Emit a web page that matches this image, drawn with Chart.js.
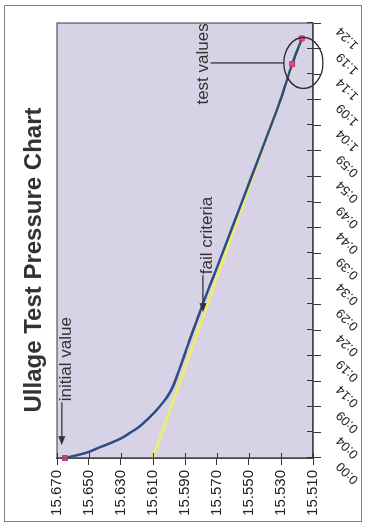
<!DOCTYPE html>
<html>
<head>
<meta charset="utf-8">
<script src="https://cdn.jsdelivr.net/npm/chart.js@4.4.1/dist/chart.umd.min.js"></script>
<style>
  html, body { margin: 0; padding: 0; background: #fff; }
  /* the chart is drawn landscape, then turned a quarter left like the photo */
  #wrap { position: absolute; left: 0; top: 0; width: 525px; height: 365px;
          transform-origin: 0 0; transform: translate(0, 525px) rotate(-90deg); }
</style>
</head>
<body>
<div id="wrap"><canvas id="chart" width="525" height="365"></canvas></div>
<script>
// time axis, minutes from start, and the printed labels
var tickMinutes = [0, 5, 10, 15, 20, 25, 30, 35, 40, 45, 50, 55, 60, 65, 70, 75, 80, 85];
var timeLabels = ['0:00', '0:04', '0:09', '0:14', '0:19', '0:24', '0:29', '0:34', '0:39',
                  '0:44', '0:49', '0:54', '0:59', '1:04', '1:09', '1:14', '1:19', '1:24'];
var pressureTicks = [15.51, 15.53, 15.55, 15.57, 15.59, 15.61, 15.63, 15.65, 15.67];

// measured pressure curve
var pressureMinutes = [0, 1, 2, 3, 4, 5, 6, 8, 10, 12, 14, 16.5, 20, 23, 26, 30, 35, 40, 50, 60, 70, 77, 82];
var pressureValues = [15.665, 15.652, 15.644, 15.636, 15.629, 15.624, 15.619, 15.612, 15.606, 15.601,
                      15.5975, 15.5945, 15.5905, 15.5872, 15.5837, 15.579, 15.5728, 15.5666, 15.5545, 15.5423,
                      15.5303, 15.523, 15.517];

// fail criteria line
var failMinutes = [0, 82];
var failValues = [15.610, 15.517];

// initial value + test values
var markMinutes = [0, 77, 82];
var markValues = [15.665, 15.523, 15.517];

function pairs(xs, ys) {
  return xs.map(function(x, i) { return {x: x, y: ys[i]}; });
}

var FONT = '"Liberation Sans", Arial, Helvetica, sans-serif';

function arrowLeft(ctx, tipX, tipY, len) {
  ctx.beginPath();
  ctx.moveTo(tipX + len, tipY);
  ctx.lineTo(tipX + 6, tipY);
  ctx.stroke();
  ctx.beginPath();
  ctx.moveTo(tipX, tipY);
  ctx.lineTo(tipX + 9, tipY - 3.5);
  ctx.lineTo(tipX + 9, tipY + 3.5);
  ctx.closePath();
  ctx.fill();
}

var decor = {
  id: 'decor',
  beforeDraw: function(chart) {
    var ctx = chart.ctx, a = chart.chartArea;
    ctx.save();
    ctx.fillStyle = '#fff';
    ctx.fillRect(0, 0, chart.width, chart.height);
    ctx.strokeStyle = '#808080';
    ctx.lineWidth = 1;
    ctx.strokeRect(3.5, 4.5, chart.width - 9, chart.height - 8);
    ctx.fillStyle = '#d8d2e6';
    ctx.fillRect(a.left, a.top, a.right - a.left, a.bottom - a.top);
    ctx.restore();
  },
  afterDraw: function(chart) {
    var ctx = chart.ctx, a = chart.chartArea;
    var xs = chart.scales.x, ys = chart.scales.y;
    ctx.save();

    // plot area frame
    ctx.strokeStyle = '#555';
    ctx.lineWidth = 1.2;
    ctx.strokeRect(a.left, a.top, a.right - a.left, a.bottom - a.top);

    // inner half of the crossing ticks
    ctx.strokeStyle = '#333';
    ctx.lineWidth = 1;
    ctx.beginPath();
    xs.ticks.forEach(function(t) {
      var px = Math.round(xs.getPixelForValue(t.value)) + 0.5;
      ctx.moveTo(px, a.bottom);
      ctx.lineTo(px, a.bottom - 6);
    });
    ys.ticks.forEach(function(t) {
      var py = Math.round(ys.getPixelForValue(t.value)) + 0.5;
      ctx.moveTo(a.left, py);
      ctx.lineTo(a.left + 5, py);
    });
    ctx.stroke();

    // title
    ctx.fillStyle = '#333';
    ctx.font = 'bold 24px ' + FONT;
    ctx.textAlign = 'center';
    ctx.textBaseline = 'middle';
    ctx.fillText('Ullage Test Pressure Chart', 265, 34);

    ctx.font = '17px ' + FONT;
    ctx.textAlign = 'left';
    ctx.textBaseline = 'alphabetic';
    ctx.strokeStyle = '#333';
    ctx.lineWidth = 1.3;

    // initial value
    var ix = xs.getPixelForValue(2.5), iy = ys.getPixelForValue(15.667);
    arrowLeft(ctx, ix, iy, 43);
    ctx.fillText('initial value', ix + 44, iy + 9.5);

    // fail criteria
    var fx = xs.getPixelForValue(28.5), fy = ys.getPixelForValue(15.5788);
    arrowLeft(ctx, fx, fy, 37);
    ctx.fillText('fail criteria', fx + 38, fy + 9);

    // test values circle + leader
    var cx = xs.getPixelForValue(77.2), cy = ys.getPixelForValue(15.516);
    ctx.lineWidth = 1.4;
    ctx.strokeStyle = '#2a2a2a';
    ctx.beginPath();
    ctx.ellipse(cx, cy, 25.5, 19.5, 0, 0, Math.PI * 2);
    ctx.stroke();
    ctx.lineWidth = 1.2;
    ctx.beginPath();
    ctx.moveTo(cx, cy - 19.5);
    ctx.lineTo(cx, cy - 93);
    ctx.stroke();
    ctx.textAlign = 'center';
    ctx.fillText('test values', cx - 1, cy - 95);

    ctx.restore();
  }
};

new Chart(document.getElementById('chart'), {
  type: 'line',
  data: {
    datasets: [
      {
        label: 'marks',
        data: pairs(markMinutes, markValues),
        showLine: false,
        pointStyle: 'rect',
        pointRadius: 3.5,
        backgroundColor: '#e04a86',
        borderColor: '#c8306c',
        borderWidth: 1,
        clip: false,
        order: 0
      },
      {
        label: 'pressure',
        data: pairs(pressureMinutes, pressureValues),
        borderColor: '#2c4d84',
        borderWidth: 2.5,
        pointRadius: 0,
        cubicInterpolationMode: 'monotone',
        fill: false,
        order: 1
      },
      {
        label: 'fail criteria',
        data: pairs(failMinutes, failValues),
        borderColor: '#ecec70',
        borderWidth: 3,
        pointRadius: 0,
        fill: false,
        order: 2
      }
    ]
  },
  options: {
    responsive: false,
    devicePixelRatio: 1,
    animation: false,
    layout: { padding: { left: 0, right: 23, top: 57, bottom: 0 } },
    plugins: { legend: { display: false }, tooltip: { enabled: false }, title: { display: false } },
    scales: {
      x: {
        type: 'linear',
        min: 0,
        max: 85,
        afterBuildTicks: function(s) { s.ticks = tickMinutes.map(function(v) { return {value: v}; }); },
        afterFit: function(s) { s.height = 52; },
        ticks: {
          autoSkip: false,
          minRotation: 45,
          maxRotation: 45,
          padding: 12,
          labelOffset: -6,
          color: '#222',
          font: { family: FONT, size: 13 },
          callback: function(v, i) { return timeLabels[i]; }
        },
        grid: { drawOnChartArea: false, tickLength: 8, color: '#333' },
        border: { color: '#333', width: 1.5 }
      },
      y: {
        type: 'linear',
        min: 15.51,
        max: 15.67,
        afterBuildTicks: function(s) { s.ticks = pressureTicks.map(function(v) { return {value: v}; }); },
        afterFit: function(s) { s.width = 67; },
        ticks: {
          padding: 5,
          color: '#222',
          font: { family: FONT, size: 15 },
          callback: function(v) { return v.toFixed(3); }
        },
        grid: { drawOnChartArea: false, tickLength: 7, color: '#333' },
        border: { color: '#333', width: 1.5 }
      }
    }
  },
  plugins: [decor]
});
</script>
</body>
</html>
